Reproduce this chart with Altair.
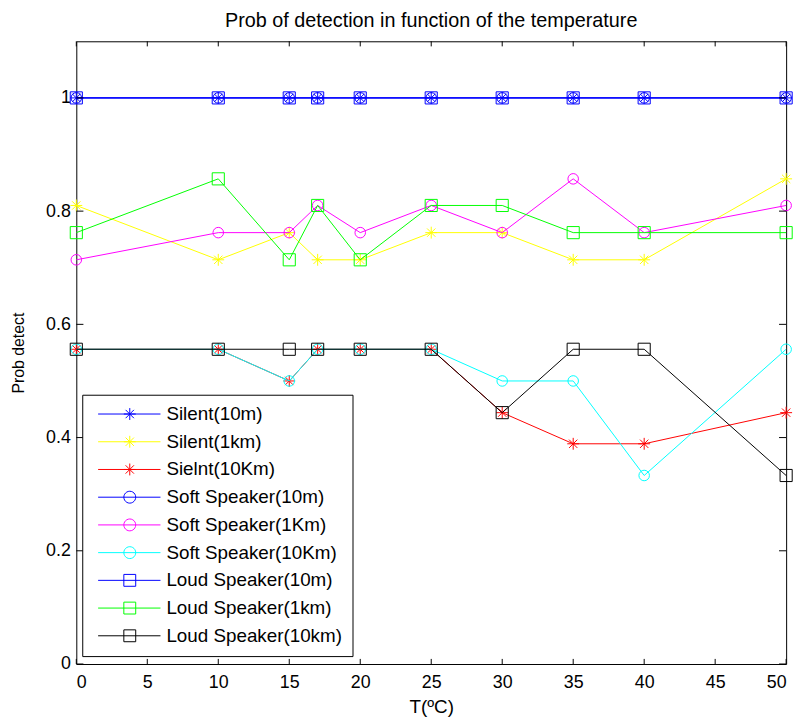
import math
import altair as alt
import pandas as pd

FONT = "Liberation Sans"

temps = [0, 10, 15, 17, 20, 25, 30, 35, 40, 50]

series_names = [
    "Silent(10m)", "Silent(1km)", "Sielnt(10Km)",
    "Soft Speaker(10m)", "Soft Speaker(1Km)", "Soft Speaker(10Km)",
    "Loud Speaker(10m)", "Loud Speaker(1km)", "Loud Speaker(10km)",
]

silent_10m = [1.0, 1.0, 1.0, 1.0, 1.0, 1.0, 1.0, 1.0, 1.0, 1.0]
silent_1km = [0.810, 0.714, 0.762, 0.714, 0.714, 0.762, 0.762, 0.714, 0.714, 0.857]
silent_10km = [0.556, 0.556, 0.500, 0.556, 0.556, 0.556, 0.444, 0.389, 0.389, 0.444]
soft_10m = [1.0, 1.0, 1.0, 1.0, 1.0, 1.0, 1.0, 1.0, 1.0, 1.0]
soft_1km = [0.714, 0.762, 0.762, 0.810, 0.762, 0.810, 0.762, 0.857, 0.762, 0.810]
soft_10km = [0.556, 0.556, 0.500, 0.556, 0.556, 0.556, 0.500, 0.500, 0.333, 0.556]
loud_10m = [1.0, 1.0, 1.0, 1.0, 1.0, 1.0, 1.0, 1.0, 1.0, 1.0]
loud_1km = [0.762, 0.857, 0.714, 0.810, 0.714, 0.810, 0.810, 0.762, 0.762, 0.762]
loud_10km = [0.556, 0.556, 0.556, 0.556, 0.556, 0.556, 0.444, 0.556, 0.556, 0.333]

series_values = [silent_10m, silent_1km, silent_10km,
                 soft_10m, soft_1km, soft_10km,
                 loud_10m, loud_1km, loud_10km]

series_colors = ["#0000ff", "#ffff00", "#ff0000",
                 "#0000ff", "#ff00ff", "#00ffff",
                 "#0000ff", "#00ff00", "#000000"]
series_markers = ["star", "star", "star",
                  "circle", "circle", "circle",
                  "square", "square", "square"]

x_ticks = [0, 5, 10, 15, 20, 25, 30, 35, 40, 45, 50]
y_ticks = [0, 0.2, 0.4, 0.6, 0.8, 1.0]
x_domain = [0, 50]
y_domain = [0, 1.1]
tick_len_x = 0.5
tick_len_y = 0.009

STAR = "M-1,0L1,0M0,-1L0,1M-0.7,-0.7L0.7,0.7M-0.7,0.7L0.7,-0.7"


def f(v):
    return f"{v:.3f}"


def legend_path(kind, a=-0.58, b=9.92, c=4.75):
    line = f"M{f(a)},0L{f(b)},0"
    if kind == "star":
        m = (f"M{f(c-1)},0L{f(c+1)},0M{f(c)},-1L{f(c)},1"
             f"M{f(c-0.7)},-0.7L{f(c+0.7)},0.7M{f(c-0.7)},0.7L{f(c+0.7)},-0.7")
    elif kind == "circle":
        pts = []
        for i in range(25):
            ang = 2 * math.pi * i / 24
            pts.append(f"{f(c + math.cos(ang))},{f(math.sin(ang))}")
        m = "M" + "L".join(pts)
    else:
        m = f"M{f(c-1)},-1L{f(c+1)},-1L{f(c+1)},1L{f(c-1)},1L{f(c-1)},-1"
    return line + m


rows = []
for name, vals in zip(series_names, series_values):
    for t, v in zip(temps, vals):
        rows.append({"series": name, "T": t, "P": v})
df = pd.DataFrame(rows)

xscale = alt.Scale(domain=x_domain, nice=False, zero=False)
yscale = alt.Scale(domain=y_domain, nice=False, zero=False)
color_scale = alt.Scale(domain=series_names, range=series_colors)

x_axis = alt.Axis(values=x_ticks, format="d", ticks=False, domain=False, grid=False,
                  labelFont=FONT, labelFontSize=18, labelColor="black", labelPadding=10,
                  title="T(ºC)", titleFont=FONT, titleFontSize=19, titleFontWeight="normal",
                  titleColor="black", titlePadding=6)
y_axis = alt.Axis(values=y_ticks, format="~g", ticks=False, domain=False, grid=False,
                  labelFont=FONT, labelFontSize=18, labelColor="black", labelPadding=6,
                  title="Prob detect", titleFont=FONT, titleFontSize=16,
                  titleFontWeight="normal", titleColor="black", titlePadding=19)

leg = alt.Legend(orient="none", legendX=6, legendY=357, title=None,
                 padding=10, rowPadding=8, labelFont=FONT, labelFontSize=19,
                 labelColor="black", labelOffset=56, labelLimit=400,
                 symbolSize=144, symbolStrokeWidth=1,
                 fillColor="white", strokeColor="black")

layers = []
for name, marker in zip(series_names, series_markers):
    if marker == "star":
        pt = alt.OverlayMarkDef(filled=False, shape=STAR, size=144, strokeWidth=1)
    elif marker == "circle":
        pt = alt.OverlayMarkDef(filled=False, shape="circle", size=113, strokeWidth=1)
    else:
        pt = alt.OverlayMarkDef(filled=False, shape="square", size=150, strokeWidth=1)
    layers.append(
        alt.Chart(df)
        .transform_filter(alt.datum.series == name)
        .mark_line(strokeWidth=1, point=pt)
        .encode(
            x=alt.X("T:Q", scale=xscale, axis=x_axis),
            y=alt.Y("P:Q", scale=yscale, axis=y_axis),
            color=alt.Color("series:N", scale=color_scale, legend=leg),
        )
    )

xt = pd.DataFrame({"tx": x_ticks})
yt = pd.DataFrame({"ty": y_ticks})
rule = dict(color="black", strokeWidth=1)
bottom_ticks = alt.Chart(xt).mark_rule(**rule).encode(
    x=alt.X("tx:Q", scale=xscale, axis=x_axis),
    y=alt.YDatum(y_domain[0], axis=y_axis), y2=alt.Y2Datum(y_domain[0] + tick_len_y))
top_ticks = alt.Chart(xt).mark_rule(**rule).encode(
    x=alt.X("tx:Q", scale=xscale, axis=x_axis),
    y=alt.YDatum(y_domain[1], axis=y_axis), y2=alt.Y2Datum(y_domain[1] - tick_len_y))
left_ticks = alt.Chart(yt).mark_rule(**rule).encode(
    y=alt.Y("ty:Q", scale=yscale, axis=y_axis),
    x=alt.XDatum(x_domain[0], axis=x_axis), x2=alt.X2Datum(x_domain[0] + tick_len_x))
right_ticks = alt.Chart(yt).mark_rule(**rule).encode(
    y=alt.Y("ty:Q", scale=yscale, axis=y_axis),
    x=alt.XDatum(x_domain[1], axis=x_axis), x2=alt.X2Datum(x_domain[1] - tick_len_x))

legend_df = pd.DataFrame({"series": series_names})
legend_layer = alt.Chart(legend_df).mark_point(filled=False, clip=True, strokeWidth=1).encode(
    x=alt.XDatum(25, axis=x_axis),
    y=alt.YDatum(-0.5, axis=y_axis),
    color=alt.Color("series:N", scale=color_scale, legend=leg),
    shape=alt.Shape("series:N",
                    scale=alt.Scale(domain=series_names,
                                    range=[legend_path(m) for m in series_markers]),
                    legend=leg),
)

chart = alt.layer(
    *layers, bottom_ticks, top_ticks, left_ticks, right_ticks, legend_layer
).properties(
    width=717, height=629,
    title=alt.TitleParams("Prob of detection in function of the temperature",
                          font=FONT, fontSize=20, fontWeight="normal", color="black",
                          anchor="middle", offset=10),
    autosize=alt.AutoSizeParams(type="none"),
    padding={"left": 69, "top": 30, "right": 14, "bottom": 60},
).configure_view(stroke="black", strokeWidth=1)

chart.save("out.html", embed_options={"renderer": "svg", "actions": False})
